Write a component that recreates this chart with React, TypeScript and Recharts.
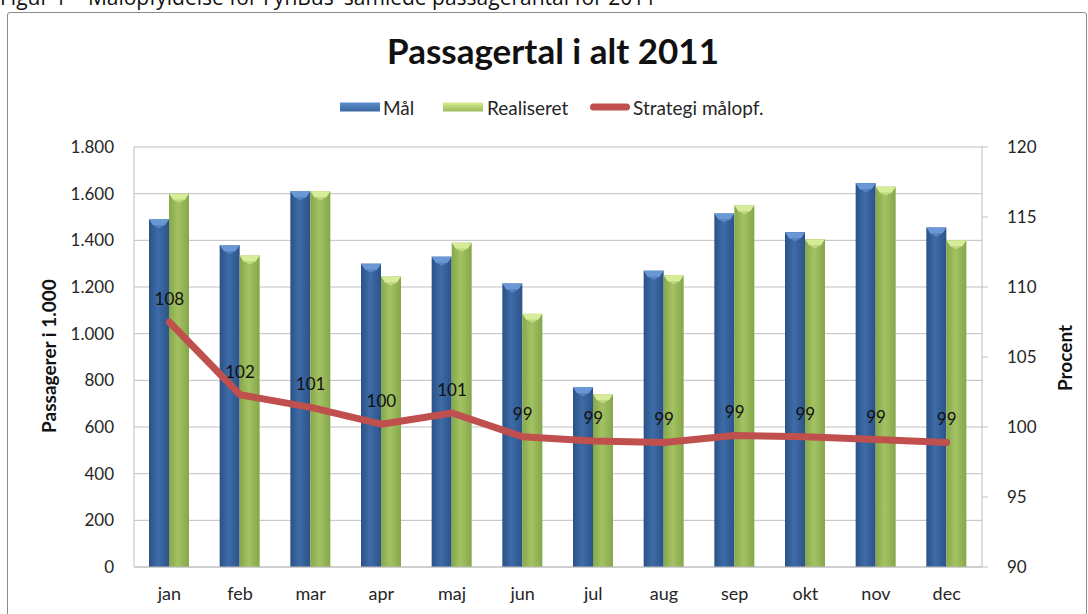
import React from 'react'
import { Bar, CartesianGrid, ComposedChart, LabelList, Line, XAxis, YAxis } from 'recharts'

// Passagertal i alt 2011: mål vs realiseret (tusinder) + strategi målopfyldelse (%)
const months = ['jan', 'feb', 'mar', 'apr', 'maj', 'jun', 'jul', 'aug', 'sep', 'okt', 'nov', 'dec']
const maal = [1490, 1380, 1610, 1300, 1330, 1215, 770, 1270, 1515, 1435, 1645, 1455]
const realiseret = [1600, 1335, 1610, 1245, 1390, 1085, 740, 1250, 1550, 1405, 1630, 1400]
const strategi = [107.5, 102.3, 101.4, 100.2, 101.0, 99.3, 99.0, 98.9, 99.4, 99.3, 99.1, 98.9]
const leftTicks = [0, 200, 400, 600, 800, 1000, 1200, 1400, 1600, 1800]
const rightTicks = [90, 95, 100, 105, 110, 115, 120]

const data = months.map((m, i) => ({ month: m, maal: maal[i], realiseret: realiseret[i], strategi: strategi[i] }))

const FONT = 'Lato, "Open Sans", sans-serif'
const BLUE = '#3a66a0'
const GREEN = '#9bbb59'
const RED = '#c0504d'
const GRID = '#bfbfbf'
const TXT = '#262626'

const fmtThousands = (v: number) => v.toLocaleString('da-DK').replace(/\s/g, '.')

function bevelBar(gradId: string, topColor: string) {
  return (props: any) => {
    const { x, y, width, height } = props
    if (!height || height <= 0) return <g />
    const bev = Math.min(6, height)
    return (
      <g>
        <rect x={x} y={y} width={width} height={height} fill={`url(#${gradId})`} />
        <polygon points={`${x},${y} ${x + width},${y} ${x + width - 4},${y + bev} ${x + 4},${y + bev}`} fill={topColor} />
        <polygon points={`${x + 4},${y + bev} ${x + width - 4},${y + bev} ${x + width / 2},${y + bev + 3}`} fill={topColor} opacity={0.6} />
      </g>
    )
  }
}

const legendItem = (left: number, swatch: React.ReactNode, label: string, textLeft: number) => (
  <>
    <div style={{ position: 'absolute', left, top: 107, transform: 'translateY(-50%)', display: 'flex' }}>{swatch}</div>
    <div style={{ position: 'absolute', left: textLeft, top: 107, transform: 'translateY(-50%)', fontSize: 19, color: TXT, whiteSpace: 'nowrap' }}>{label}</div>
  </>
)

export default function App() {
  return (
    <div style={{ position: 'absolute', left: 0, top: 0, width: 1088, height: 614, overflow: 'hidden', background: '#fff', fontFamily: FONT }}>
      <div style={{ position: 'absolute', left: 0, top: -17, fontSize: 21, color: '#111', whiteSpace: 'nowrap', fontFamily: '"Open Sans", sans-serif' }}>
        Figur 1 – Målopfyldelse for FynBus' samlede passagerantal for 2011
      </div>
      <div style={{ position: 'absolute', left: 7, top: 12, width: 1078, height: 620, border: '1px solid #8c8c8c', borderRadius: 3 }} />
      <div style={{ position: 'absolute', left: 0, width: 1106, top: 28, textAlign: 'center', fontSize: 35, fontWeight: 700, color: '#111', lineHeight: '44px' }}>
        Passagertal i alt 2011
      </div>
      {legendItem(340, <span style={{ display: 'inline-block', width: 40, height: 9, background: `linear-gradient(#5b8ccc, ${BLUE})` }} />, 'Mål', 383)}
      {legendItem(443, <span style={{ display: 'inline-block', width: 40, height: 9, background: `linear-gradient(#d4eb8e, ${GREEN})` }} />, 'Realiseret', 487)}
      {legendItem(590, <span style={{ display: 'inline-block', width: 40, height: 7, borderRadius: 4, background: RED }} />, 'Strategi målopf.', 633)}
      <div style={{ position: 'absolute', left: 48, top: 356, transform: 'translate(-50%, -50%) rotate(-90deg)', fontSize: 19, fontWeight: 700, whiteSpace: 'nowrap', color: '#111' }}>
        Passagerer i 1.000
      </div>
      <div style={{ position: 'absolute', left: 1064, top: 358, transform: 'translate(-50%, -50%) rotate(-90deg)', fontSize: 19, fontWeight: 700, whiteSpace: 'nowrap', color: '#111' }}>
        Procent
      </div>
      <div style={{ position: 'absolute', left: 0, top: 0 }}>
        <ComposedChart width={1088} height={614} data={data} margin={{ top: 147, right: 36, left: 64, bottom: 7 }} barSize={20} barGap={0}>
          <defs>
            <linearGradient id="gBlue" x1="0" y1="0" x2="1" y2="0">
              <stop offset="0%" stopColor="#2c5186" />
              <stop offset="45%" stopColor="#3d6ca8" />
              <stop offset="100%" stopColor="#2d5387" />
            </linearGradient>
            <linearGradient id="gGreen" x1="0" y1="0" x2="1" y2="0">
              <stop offset="0%" stopColor="#86a84a" />
              <stop offset="45%" stopColor="#a3c263" />
              <stop offset="100%" stopColor="#86a64b" />
            </linearGradient>
          </defs>
          <CartesianGrid yAxisId="left" vertical={false} stroke={GRID} />
          <XAxis
            dataKey="month"
            height={40}
            tickLine={false}
            tickSize={6}
            tickMargin={14}
            axisLine={{ stroke: GRID }}
            tick={{ fill: TXT, fontSize: 18, fontFamily: FONT }}
          />
          <YAxis
            yAxisId="left"
            width={70}
            domain={[0, 1800]}
            ticks={leftTicks}
            tickFormatter={fmtThousands}
            tickLine={false}
            tickSize={6}
            tickMargin={14}
            axisLine={{ stroke: GRID }}
            tick={{ fill: TXT, fontSize: 17, fontFamily: FONT }}
          />
          <YAxis
            yAxisId="right"
            orientation="right"
            width={70}
            domain={[90, 120]}
            ticks={rightTicks}
            tickLine={{ stroke: GRID }}
            tickSize={6}
            tickMargin={19}
            axisLine={{ stroke: GRID }}
            tick={{ fill: TXT, fontSize: 17, fontFamily: FONT, textAnchor: 'start' }}
          />
          <Bar yAxisId="left" dataKey="maal" name="Mål" fill={BLUE} shape={bevelBar('gBlue', '#6a98d6')} isAnimationActive={false} />
          <Bar yAxisId="left" dataKey="realiseret" name="Realiseret" fill={GREEN} shape={bevelBar('gGreen', '#d6ec98')} isAnimationActive={false} />
          <Line
            yAxisId="right"
            dataKey="strategi"
            name="Strategi målopf."
            stroke={RED}
            strokeWidth={7}
            strokeLinecap="round"
            strokeLinejoin="round"
            dot={false}
            isAnimationActive={false}
          >
            <LabelList dataKey="strategi" position="top" offset={17} formatter={(v: any) => Math.round(Number(v))} fill="#111" fontSize={17} fontFamily={FONT} />
          </Line>
        </ComposedChart>
      </div>
    </div>
  )
}
